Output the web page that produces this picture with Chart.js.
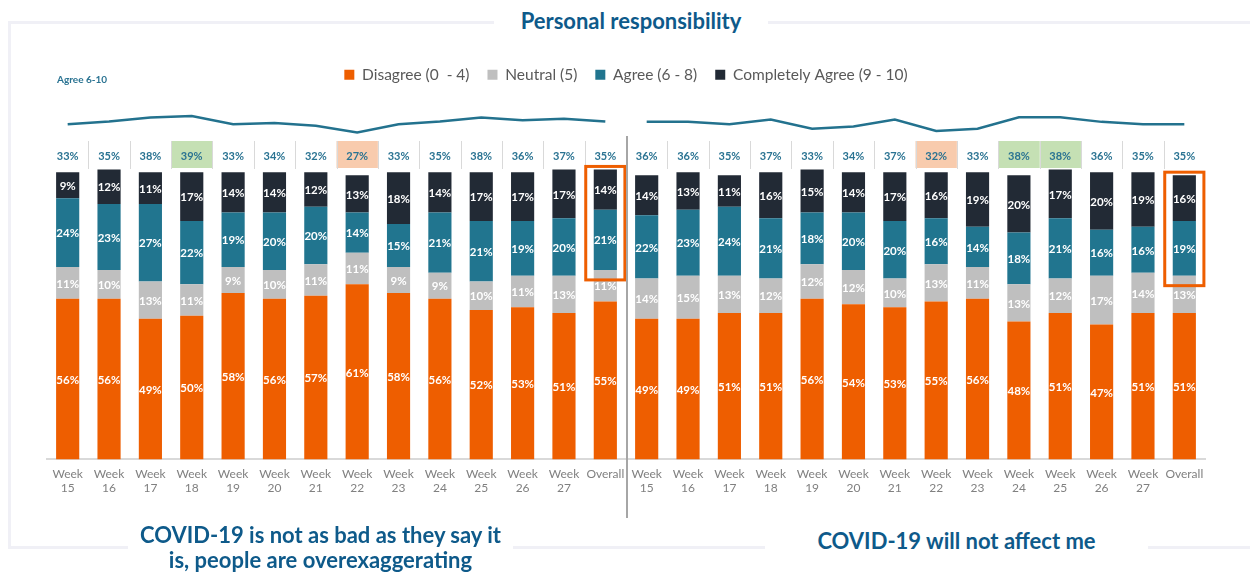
<!DOCTYPE html>
<html>
<head>
<meta charset="utf-8">
<title>Personal responsibility</title>
<script src="https://cdn.jsdelivr.net/npm/chart.js@4.4.1/dist/chart.umd.min.js"></script>
<style>
  body { margin: 0; background: #fff; }
  #wrap { position: relative; width: 1250px; height: 572px; overflow: hidden; font-family: Lato, "Open Sans", sans-serif; }
  #wrap canvas { position: absolute; left: 0; top: 0; }
  .rule { position: absolute; background: #f0f0f6; }
  .heading { position: absolute; color: #0e5a8a; font-weight: bold; text-align: center; background: #fff; font-size: 22px; }
  .agree-tag { position: absolute; left: 57px; top: 73px; color: #2a7392; font-weight: bold; font-size: 10px; }
</style>
</head>
<body>
<div id="wrap">
  <div class="rule" style="left:8px; top:21px; width:486px; height:3px;"></div>
  <div class="rule" style="left:768px; top:21px; width:482px; height:3px;"></div>
  <div class="rule" style="left:8px; top:21px; width:3px; height:528px;"></div>
  <div class="rule" style="left:8px; top:546px; width:1242px; height:3px;"></div>
  <canvas id="chart" width="1250" height="572"></canvas>
  <div class="heading" style="left:494px; width:274px; top:6px; line-height:30px;">Personal responsibility</div>
  <div class="heading" style="left:128px; width:385px; top:522px; line-height:25px;">COVID-19 is not as bad as they say it<br>is, people are overexaggerating</div>
  <div class="heading" style="left:765px; width:383px; top:527px; line-height:28px;">COVID-19 will not affect me</div>
  <div class="agree-tag">Agree 6-10</div>
</div>
<script>
// week columns shared by both statements
var weeks = [["Week","15"],["Week","16"],["Week","17"],["Week","18"],["Week","19"],["Week","20"],["Week","21"],
             ["Week","22"],["Week","23"],["Week","24"],["Week","25"],["Week","26"],["Week","27"],"Overall"];

// "COVID-19 is not as bad as they say it is, people are overexaggerating"
var leftDisagree = [56, 56, 49, 50, 58, 56, 57, 61, 58, 56, 52, 53, 51, 55];
var leftNeutral  = [11, 10, 13, 11,  9, 10, 11, 11,  9,  9, 10, 11, 13, 11];
var leftAgree    = [24, 23, 27, 22, 19, 20, 20, 14, 15, 21, 21, 19, 20, 21];
var leftComplete = [ 9, 12, 11, 17, 14, 14, 12, 13, 18, 14, 17, 17, 17, 14];
var leftTotal    = [33, 35, 38, 39, 33, 34, 32, 27, 33, 35, 38, 36, 37, 35];

// "COVID-19 will not affect me"
var rightDisagree = [49, 49, 51, 51, 56, 54, 53, 55, 56, 48, 51, 47, 51, 51];
var rightNeutral  = [14, 15, 13, 12, 12, 12, 10, 13, 11, 13, 12, 17, 14, 13];
var rightAgree    = [22, 23, 24, 21, 18, 20, 20, 16, 14, 18, 21, 16, 16, 19];
var rightComplete = [14, 13, 11, 16, 15, 14, 17, 16, 19, 20, 17, 20, 19, 16];
var rightTotal    = [36, 36, 35, 37, 33, 34, 37, 32, 33, 38, 38, 36, 35, 35];

var seriesNames = ["Disagree (0  - 4)", "Neutral (5)", "Agree (6 - 8)", "Completely Agree (9 - 10)"];
var seriesColors = ["#EE5E00", "#BFBFBF", "#21758F", "#222A35"];

var gap = weeks.map(function () { return null; });
var labels = weeks.concat(weeks);

function barSet(i, left, right) {
  return {
    label: seriesNames[i],
    data: left.concat(right),
    backgroundColor: seriesColors[i],
    stack: "resp",
    yAxisID: "y",
    barPercentage: 0.56,
    categoryPercentage: 1,
    order: 2
  };
}

function lineSet(data, axis) {
  return {
    type: "line",
    label: "Agree 6-10",
    data: data,
    yAxisID: axis,
    borderColor: "#23728E",
    borderWidth: 2.5,
    pointRadius: 0,
    tension: 0,
    spanGaps: false,
    clip: false,
    order: 1
  };
}

// cell strip, segment values, overall frames and the panel divider
var panelMarks = {
  id: "panelMarks",
  afterDatasetsDraw: function (chart) {
    var ctx = chart.ctx;
    var x = chart.scales.x;
    var step = x.getPixelForValue(1) - x.getPixelForValue(0);
    ctx.save();

    // Agree 6-10 strip
    var cellTop = 141, cellBottom = 169;
    [leftTotal, rightTotal].forEach(function (vals, p) {
      var weekly = vals.slice(0, 13);
      var hi = Math.max.apply(null, weekly), lo = Math.min.apply(null, weekly);
      vals.forEach(function (v, j) {
        var i = p * 14 + j;
        var cx = x.getPixelForValue(i);
        if (j < 13 && (v === hi || v === lo)) {
          ctx.fillStyle = v === hi ? "#C5E0B4" : "#F8CBAD";
          ctx.fillRect(cx - step / 2, cellTop, step, cellBottom - cellTop - 1);
        }
        if (j > 0) {
          ctx.strokeStyle = "#D9D9D9";
          ctx.lineWidth = 1;
          ctx.beginPath();
          ctx.moveTo(Math.round(cx - step / 2) + 0.5, cellTop);
          ctx.lineTo(Math.round(cx - step / 2) + 0.5, cellBottom);
          ctx.stroke();
        }
        ctx.fillStyle = "#2A7392";
        ctx.font = "bold 11px Lato";
        ctx.textAlign = "center";
        ctx.textBaseline = "middle";
        ctx.fillText(v + "%", cx, 156);
      });
    });

    // values inside bar segments
    ctx.fillStyle = "#fff";
    ctx.font = "bold 11.5px Lato";
    ctx.textAlign = "center";
    ctx.textBaseline = "middle";
    for (var d = 0; d < 4; d++) {
      var meta = chart.getDatasetMeta(d);
      var vals = chart.data.datasets[d].data;
      meta.data.forEach(function (el, i) {
        ctx.fillText(vals[i] + "%", el.x, (el.y + el.base) / 2 + 1);
      });
    }

    // frames around the Overall agree segments
    ctx.strokeStyle = "#EE5E00";
    ctx.lineWidth = 3;
    [13, 27].forEach(function (i) {
      var top = chart.getDatasetMeta(3).data[i];
      var mid = chart.getDatasetMeta(2).data[i];
      var half = top.width / 2 + 8;
      ctx.strokeRect(top.x - half, top.y - 3, half * 2, mid.base + 10 - (top.y - 3));
    });

    // divider between the two statements
    var dx = (x.getPixelForValue(13) + x.getPixelForValue(14)) / 2 + 1;
    ctx.strokeStyle = "#A6A6A6";
    ctx.lineWidth = 2;
    ctx.beginPath();
    ctx.moveTo(dx, 136);
    ctx.lineTo(dx, 518);
    ctx.stroke();

    ctx.restore();
  }
};

var ctx = document.getElementById("chart").getContext("2d");
var config = {
  type: "bar",
  data: {
    labels: labels,
    datasets: [
      barSet(0, leftDisagree, rightDisagree),
      barSet(1, leftNeutral, rightNeutral),
      barSet(2, leftAgree, rightAgree),
      barSet(3, leftComplete, rightComplete),
      lineSet(leftTotal.concat(gap), "lineL"),
      lineSet(gap.concat(rightTotal), "lineR")
    ]
  },
  options: {
    responsive: false,
    animation: false,
    layout: { padding: { left: 47, right: 45, top: 49, bottom: 77 } },
    plugins: {
      legend: {
        position: "top",
        labels: {
          filter: function (item) { return item.datasetIndex < 4; },
          boxWidth: 10,
          boxHeight: 10,
          padding: 18,
          color: "#595959",
          font: { family: "Lato", size: 15.5 }
        }
      },
      tooltip: { enabled: false }
    },
    scales: {
      x: {
        stacked: true,
        grid: { display: false },
        border: { display: true, color: "#D9D9D9", width: 2 },
        ticks: {
          color: "#808080",
          font: { family: "Lato", size: 12, lineHeight: 1.15 },
          padding: 0,
          maxRotation: 0,
          autoSkip: false
        }
      },
      y: { stacked: true, display: false, min: 0, max: 127.8 },
      lineL: { display: false, min: -212.5, max: 56.3 },
      lineR: { display: false, min: -113.4, max: 49.0 }
    }
  },
  plugins: [panelMarks]
};

var chart = new Chart(ctx, config);
</script>
</body>
</html>
